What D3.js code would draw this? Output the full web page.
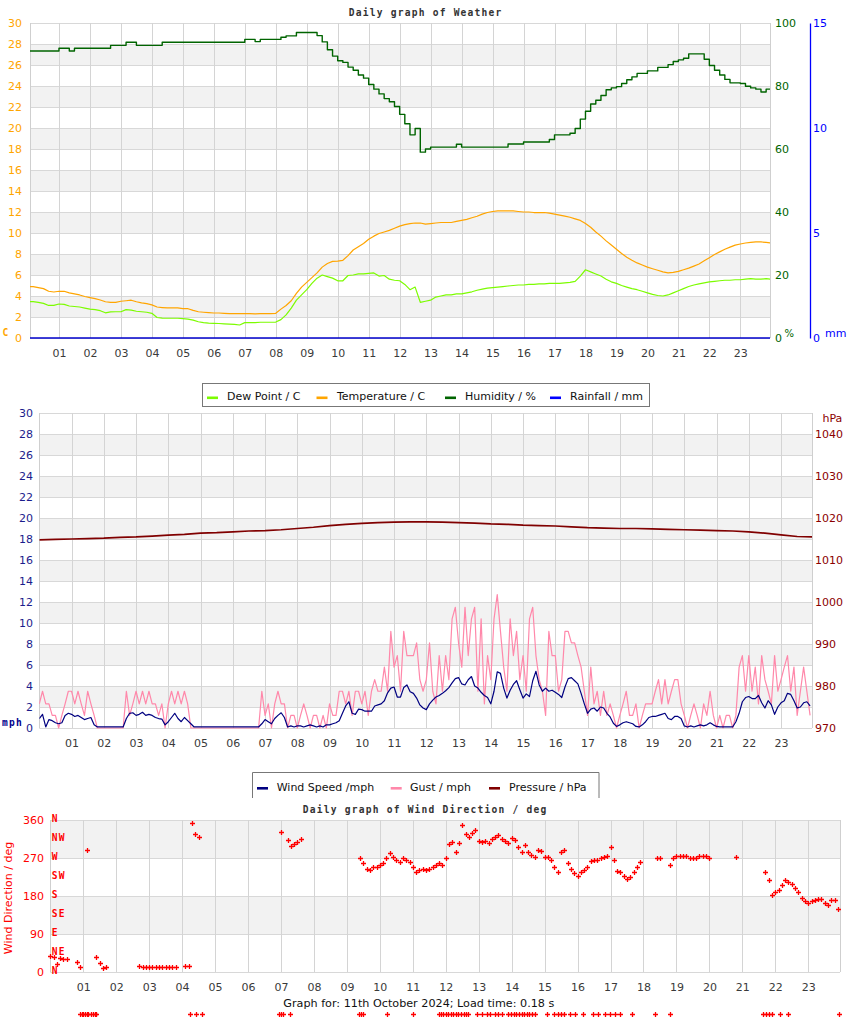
<!DOCTYPE html>
<html>
<head>
<meta charset="utf-8">
<script src="https://cdn.jsdelivr.net/npm/d3@7/dist/d3.min.js"></script>
<style>
html,body{margin:0;padding:0;background:#fff;}
svg{display:block;}
</style>
</head>
<body>
<svg id="chart" width="850" height="1017"></svg>
<script>
// ---------------- DATA ----------------
const hourTicks = [1,2,3,4,5,6,7,8,9,10,11,12,13,14,15,16,17,18,19,20,21,22,23];
const hourLabels = ["01","02","03","04","05","06","07","08","09","10","11","12","13","14","15","16","17","18","19","20","21","22","23"];
const tempTicks = [0,2,4,6,8,10,12,14,16,18,20,22,24,26,28,30];
const humidityTicks = [0,20,40,60,80,100];
const rainTicks = [0,5,10,15];
const mphTicks = [0,2,4,6,8,10,12,14,16,18,20,22,24,26,28,30];
const pressureTicks = [970,980,990,1000,1010,1020,1030,1040];
const directionTicks = [0,90,180,270,360];
const compassLabels = ["N","NE","E","SE","S","SW","W","NW","N"];
const compassDegrees = [0,45,90,135,180,225,270,315,360];

// 10-minute readings, 00:00 .. 24:00
const temperature = [
 4.89,4.89,4.80,4.70,4.45,4.38, 4.45,4.45,4.30,4.20,4.10,3.95,
 3.85,3.75,3.62,3.45,3.40,3.40, 3.50,3.55,3.60,3.45,3.35,3.27,
 3.15,2.95,2.90,2.86,2.86,2.86, 2.80,2.79,2.63,2.50,2.45,2.41,
 2.38,2.38,2.35,2.32,2.32,2.32, 2.32,2.32,2.30,2.32,2.32,2.32,
 2.35,2.75,3.10,3.55,4.25,4.85, 5.30,5.75,6.20,6.75,7.10,7.30,
 7.33,7.40,7.85,8.38,8.70,9.00, 9.40,9.70,9.95,10.10,10.25,10.45,
 10.65,10.80,10.90,10.95,10.95,10.85, 10.90,10.95,11.00,11.00,11.00,11.10,
 11.20,11.30,11.45,11.60,11.80,11.95, 12.05,12.10,12.10,12.10,12.10,12.05,
 12.00,12.00,11.95,11.95,11.95,11.90, 11.80,11.70,11.60,11.50,11.35,11.20,
 10.90,10.55,10.10,9.70,9.25,8.85, 8.45,8.05,7.70,7.40,7.15,6.95,
 6.75,6.60,6.45,6.30,6.20,6.25, 6.35,6.50,6.65,6.85,7.05,7.35,
 7.65,7.95,8.20,8.45,8.65,8.85, 8.95,9.05,9.10,9.15,9.15,9.10,
 9.05];
const dewPoint = [
 3.46,3.46,3.40,3.30,3.10,3.10, 3.24,3.20,3.05,3.00,2.95,2.85,
 2.75,2.70,2.60,2.40,2.48,2.50, 2.50,2.70,2.65,2.55,2.50,2.45,
 2.35,1.95,1.90,1.88,1.88,1.88, 1.85,1.80,1.70,1.55,1.46,1.42,
 1.40,1.38,1.35,1.33,1.30,1.24, 1.46,1.46,1.46,1.50,1.50,1.50,
 1.52,1.75,2.20,2.85,3.60,4.10, 4.60,5.20,5.70,6.00,5.85,5.70,
 5.45,5.45,5.95,6.00,6.10,6.10, 6.15,6.20,5.90,5.95,5.60,5.50,
 5.45,5.10,4.60,4.85,3.40,3.50, 3.60,3.90,4.00,4.10,4.10,4.20,
 4.20,4.30,4.40,4.55,4.65,4.75, 4.80,4.85,4.90,4.95,5.00,5.05,
 5.05,5.10,5.10,5.15,5.15,5.20, 5.20,5.20,5.25,5.30,5.40,5.90,
 6.50,6.30,6.10,5.90,5.60,5.35, 5.20,5.00,4.85,4.70,4.60,4.45,
 4.30,4.15,4.05,4.00,4.10,4.30, 4.50,4.70,4.90,5.05,5.15,5.25,
 5.35,5.40,5.45,5.50,5.50,5.55, 5.55,5.60,5.65,5.60,5.60,5.65,
 5.60];
const humidity = [
 91.1,91.1,91.1,91.1,91.1,91.1, 92.0,92.0,91.1,92.0,92.0,92.0,
 92.0,92.0,92.0,92.0,92.9,92.9, 92.9,93.9,93.9,92.9,92.9,92.9,
 92.9,92.9,93.9,93.9,93.9,93.9, 93.9,93.9,93.9,93.9,93.9,93.9,
 93.9,93.9,93.9,93.9,93.9,93.9, 94.8,94.8,94.1,94.8,94.8,94.8,
 94.8,95.5,95.9,95.9,97.0,97.0, 97.0,97.0,96.0,94.0,91.5,89.5,
 88.0,87.5,86.0,85.0,83.5,82.5, 80.5,79.0,77.5,76.0,75.0,73.5,
 71.0,68.0,64.5,66.5,59.0,60.0, 60.6,60.6,60.6,60.6,60.6,61.5,
 60.6,60.6,60.6,60.6,60.6,60.6, 60.6,60.6,60.6,61.6,61.6,61.6,
 62.2,62.2,62.2,62.2,62.2,63.0, 64.5,64.5,64.5,65.0,66.5,69.5,
 72.0,74.3,75.5,77.0,78.8,79.4, 79.8,80.8,82.0,82.9,84.0,84.0,
 84.8,84.8,85.9,85.9,86.8,87.8, 88.3,88.8,90.2,90.2,90.2,88.5,
 86.5,85.0,83.5,82.1,81.0,81.0, 80.8,79.9,79.4,79.0,78.1,79.0,
 79.0];
// hourly rainfall, 00:00 .. 24:00
const rainfall = [0,0,0,0,0,0,0,0,0,0,0,0,0,0,0,0,0,0,0,0,0,0,0,0,0];
// 30-minute pressure, 00:00 .. 24:00
const pressure = [
 1014.8,1014.9,1015.0,1015.1,1015.2,1015.4,1015.5,1015.7,1015.9,1016.1,
 1016.4,1016.5,1016.7,1016.9,1017.0,1017.2,1017.5,1017.8,1018.2,1018.5,
 1018.7,1018.9,1019.0,1019.1,1019.1,1019.0,1018.9,1018.8,1018.6,1018.5,
 1018.3,1018.2,1018.1,1017.9,1017.7,1017.6,1017.5,1017.5,1017.4,1017.3,
 1017.2,1017.1,1017.0,1016.9,1016.7,1016.4,1016.0,1015.6,1015.5];
// 6-minute wind readings, 00:00 .. 23:54
const windSpeed = [
 0.9,1.3,0.1,0.8,0.7,0.5,0.4,0.5,1.2,1.4,
 1.3,1.1,1.2,1.0,0.8,0.9,1.0,0.3,0.1,0.1,
 0.1,0.1,0.1,0.1,0.1,0.1,0.1,0.9,1.4,1.45,
 1.2,1.3,1.5,1.2,1.3,1.2,1.0,0.9,0.85,0.3,
 0.6,1.0,1.4,0.9,0.6,1.0,0.7,0.4,0.1,0.1,
 0.1,0.1,0.1,0.1,0.1,0.1,0.1,0.1,0.1,0.1,
 0.1,0.1,0.1,0.1,0.1,0.1,0.1,0.1,0.1,0.4,
 0.8,0.6,0.4,0.9,1.2,1.45,1.0,0.1,0.2,0.1,
 0.2,0.2,0.1,0.2,0.3,0.2,0.1,0.2,0.1,0.3,
 0.3,0.4,0.5,0.7,1.4,2.1,2.5,1.4,1.3,1.8,
 1.75,1.6,1.6,1.6,2.1,2.2,2.3,2.6,3.35,3.8,
 3.9,2.95,2.95,3.85,4.1,3.45,3.3,2.85,2.2,1.9,
 1.75,2.3,2.65,2.95,3.1,3.3,3.55,3.85,4.3,4.7,
 4.8,4.2,4.1,4.6,4.9,4.0,3.8,3.4,3.1,2.9,
 2.3,3.5,5.35,5.2,3.8,2.85,3.6,4.15,4.5,3.65,
 2.85,3.25,3.0,4.5,5.4,4.1,3.5,3.8,3.5,3.6,
 3.4,3.2,2.9,3.9,4.7,4.8,4.5,4.2,3.3,2.3,
 1.4,1.8,1.9,1.6,2.0,1.9,1.4,1.05,0.45,0.15,
 0.3,0.5,0.6,0.5,0.4,0.15,0.1,0.3,0.6,1.0,
 1.1,1.1,1.2,1.3,1.4,0.9,0.8,1.1,1.1,0.9,
 0.2,0.1,0.2,0.1,0.2,0.3,0.2,0.3,0.5,0.3,
 0.15,0.1,0.1,0.1,0.1,0.1,0.6,1.4,2.5,2.9,
 3.0,2.8,2.8,3.1,2.4,1.9,2.6,2.2,1.3,2.0,
 2.4,2.6,3.3,3.2,2.6,1.9,2.0,2.4,2.5,2.1];
const gust = [
 2.3,3.5,2.3,2.3,1.2,1.2,0,1.2,2.3,3.5,
 3.5,2.3,3.5,2.3,1.2,3.5,2.3,1.2,0,0,
 0,0,0,0,0,0,0,3.5,1.2,2.3,
 3.5,2.3,3.5,2.3,3.5,2.3,2.3,1.2,2.3,0,
 2.3,3.5,2.3,3.5,2.3,3.5,2.3,0,0,0,
 0,0,0,0,0,0,0,0,0,0,
 0,0,0,0,0,0,0,0,0,3.5,
 1.2,2.3,0,2.3,3.5,2.3,2.3,0,1.2,1.2,
 0,1.2,2.3,1.2,0,1.2,1.2,0,1.2,0,
 2.3,1.2,1.2,3.5,3.5,2.3,3.5,1.2,3.5,3.5,
 2.3,3.5,1.2,3.5,4.6,3.5,3.5,5.8,3.5,9.2,
 5.8,6.9,3.5,9.2,6.9,6.9,6.9,8.1,4.6,3.5,
 4.6,8.1,3.5,2.3,6.9,3.5,6.9,4.6,10.4,11.5,
 8.1,5.8,11.5,6.9,10.4,11.5,3.5,10.4,2.3,6.9,
 4.6,10.4,12.7,9.2,5.8,3.5,10.4,6.9,9.2,4.6,
 6.9,3.5,10.4,11.5,6.9,4.6,3.5,1.2,9.2,6.9,
 6.9,3.5,4.6,9.2,9.2,8.1,8.1,6.9,5.8,3.5,
 1.2,5.8,2.3,3.5,1.2,3.5,1.2,2.3,1.2,0,
 1.2,2.3,3.5,1.2,1.2,2.3,0,1.2,2.3,2.3,
 2.3,3.5,4.6,2.3,4.6,2.3,3.5,4.6,4.6,2.3,
 1.2,0,1.2,2.3,1.2,0,2.3,1.2,3.5,1.2,
 0,1.2,0,1.2,1.2,0,1.2,5.8,6.9,3.5,
 6.9,3.5,5.8,2.3,6.9,4.6,3.5,2.3,6.9,3.5,
 4.6,5.8,6.9,3.5,5.8,1.2,3.5,5.8,3.5,1.2];
const windDirection = [
 38,36,20,33,31,31,null,null,24,12,
 null,290,null,null,36,22,9,12,null,null,
 null,null,null,null,null,null,null,15,11,11,
 11,11,11,11,11,11,11,11,11,null,
 null,14,14,354,326,320,null,null,null,null,
 null,null,null,null,null,null,null,null,null,null,
 null,null,null,null,null,null,null,null,null,null,
 331,null,312,298,302,308,315,null,null,null,
 null,null,null,null,null,null,null,null,null,null,
 null,null,null,null,269,257,245,241,249,249,
 253,257,269,283,273,265,261,269,265,261,
 249,237,241,245,241,245,249,253,259,253,
 270,303,309,285,305,348,328,320,330,336,
 310,307,310,305,315,320,324,316,311,305,
 317,313,297,285,301,285,277,273,289,287,
 272,272,265,249,237,285,289,257,243,234,
 228,237,241,249,262,265,265,269,272,275,
 295,265,240,237,228,220,225,237,249,261,
 null,null,null,null,269,269,null,null,253,271,
 275,275,275,275,270,270,270,275,275,275,
 270,null,null,null,null,null,null,null,273,null,
 null,null,null,null,null,null,null,237,218,182,
 190,194,206,218,214,208,198,190,176,167,
 164,168,171,172,173,164,159,170,170,150];
// times (hours) with calm / no direction reading
const calmHours = [
 0.90,0.95,1.00,1.05,1.10,1.15,1.25,1.30,1.35,1.40,
 4.24,4.42,4.59,6.95,7.00,7.05,7.27,9.38,9.44,9.50,10.21,11.02,
 11.78,11.86,11.93,12.01,12.08,12.16,12.23,12.31,12.38,12.46,12.54,12.61,12.69,
 12.94,13.09,13.24,13.35,13.48,13.60,13.70,
 13.90,13.98,14.06,14.14,14.22,14.30,14.38,14.46,14.54,14.62,14.71,
 15.07,15.27,15.42,15.50,15.60,15.77,15.92,16.18,16.48,16.63,
 16.83,16.99,17.14,17.29,17.64,18.35,18.81,
 21.64,21.72,21.80,21.89,22.15,22.40,23.92];
const calmMarkerDeg = -100;

// ---------------- DRAWING ----------------
const SANS = "'DejaVu Sans', Verdana, sans-serif";
const MONO = "'DejaVu Sans Mono', monospace";
const svg = d3.select("#chart");
const defs = svg.append("defs");

const series = (arr, step) => arr.map((v, i) => ({t: i * step, v: v}));

function clipRect(id, b) {
  defs.append("clipPath").attr("id", id).append("rect")
    .attr("x", b.left).attr("y", b.top - 4)
    .attr("width", b.right - b.left).attr("height", b.bottom - b.top + 8);
}

function drawGrid(b, xs, ys, ticks) {
  const g = svg.append("g");
  const bands = ticks.map((d, i) => [d, ticks[i + 1]]).filter((d, i) => i % 2 === 1 && d[1] !== undefined);
  g.selectAll("rect.band").data(bands).join("rect").attr("class", "band")
    .attr("x", b.left).attr("width", b.right - b.left)
    .attr("y", d => ys(d[1])).attr("height", d => ys(d[0]) - ys(d[1]))
    .attr("fill", "#f2f2f2");
  g.selectAll("line.h").data(ticks).join("line").attr("class", "h")
    .attr("x1", b.left).attr("x2", b.right)
    .attr("y1", d => Math.round(ys(d)) + 0.5).attr("y2", d => Math.round(ys(d)) + 0.5)
    .attr("stroke", "#d8d8d8");
  g.selectAll("line.v").data(hourTicks).join("line").attr("class", "v")
    .attr("x1", d => Math.round(xs(d)) + 0.5).attr("x2", d => Math.round(xs(d)) + 0.5)
    .attr("y1", b.top).attr("y2", b.bottom)
    .attr("stroke", "#d4d4d4");
  [b.left, b.right].forEach(x => g.append("line")
    .attr("x1", Math.round(x) + 0.5).attr("x2", Math.round(x) + 0.5)
    .attr("y1", b.top).attr("y2", b.bottom).attr("stroke", "#cfcfcf"));
}

function styleAxis(g, color, keepDomain) {
  if (!keepDomain) g.select(".domain").remove();
  g.selectAll(".tick line").remove();
  g.attr("font-family", null).attr("font-size", null);
  g.selectAll("text").attr("fill", color).style("font-family", SANS).style("font-size", "11px");
}

function drawLine(clipId, data, xs, ys, color, width, curve) {
  svg.append("path").datum(data)
    .attr("clip-path", `url(#${clipId})`)
    .attr("fill", "none").attr("stroke", color).attr("stroke-width", width)
    .attr("stroke-linejoin", "round")
    .attr("d", d3.line().defined(d => d.v != null).x(d => xs(d.t)).y(d => ys(d.v)).curve(curve || d3.curveLinear));
}

function bitmapText(x, y, str, color) {
  return svg.append("text").attr("x", x).attr("y", y).text(str)
    .attr("fill", color).style("font-family", MONO).style("font-weight", "bold")
    .style("font-size", "9.6px").style("letter-spacing", "1.22px");
}

function timeAxis(xs, y, pad) {
  const g = svg.append("g").attr("transform", `translate(0,${y})`)
    .call(d3.axisBottom(xs).tickValues(hourTicks).tickFormat((d, i) => hourLabels[i]).tickSize(0).tickPadding(pad));
  styleAxis(g, "#3a3a3a");
}

function legend(box, items, open) {
  const g = svg.append("g");
  if (open) {
    g.append("rect").attr("x", box.x).attr("y", box.y).attr("width", box.w).attr("height", box.h).attr("fill", "#fff");
    g.append("path").attr("d", `M${box.x + 0.5},${box.y + box.h}V${box.y + 0.5}H${box.x + box.w - 0.5}V${box.y + box.h}`)
      .attr("fill", "none").attr("stroke", "#777");
  } else {
    g.append("rect").attr("x", box.x + 0.5).attr("y", box.y + 0.5).attr("width", box.w).attr("height", box.h)
      .attr("fill", "#fff").attr("stroke", "#777");
  }
  items.forEach(it => {
    g.append("line").attr("x1", it.lx).attr("x2", it.lx + 11).attr("y1", box.dashY).attr("y2", box.dashY)
      .attr("stroke", it.color).attr("stroke-width", 2.6);
    g.append("text").attr("x", it.tx).attr("y", box.textY).text(it.label)
      .attr("fill", "#111").style("font-family", SANS).style("font-size", "11px");
  });
}

// ======== Chart 1: Weather ========
const b1 = {left: 30, right: 770, top: 23, bottom: 338};
const x1 = d3.scaleLinear().domain([0, 24]).range([28, 771.3]);
const yT = d3.scaleLinear().domain([0, 30]).range([338, 23]);
const yH = d3.scaleLinear().domain([0, 100]).range([338, 23]);
const yR = d3.scaleLinear().domain([0, 15]).range([338, 23]);
clipRect("c1", b1);
drawGrid(b1, x1, yT, tempTicks);

bitmapText(348.7, 16.3, "Daily graph of Weather", "#333");

let g = svg.append("g").attr("transform", "translate(30,0)")
  .call(d3.axisLeft(yT).tickValues(tempTicks).tickSize(0).tickPadding(8));
styleAxis(g, "#ffa500");
bitmapText(2.5, 336, "C", "#ffa500");

g = svg.append("g").attr("transform", "translate(770,0)")
  .call(d3.axisRight(yH).tickValues(humidityTicks).tickSize(0).tickPadding(5));
styleAxis(g, "#006400");
svg.append("text").attr("x", 784.5).attr("y", 337).text("%").attr("fill", "#006400")
  .style("font-family", SANS).style("font-size", "10px");

g = svg.append("g").attr("transform", "translate(810,0)")
  .call(d3.axisRight(yR).tickValues(rainTicks).tickSize(0).tickSizeOuter(0).tickPadding(3));
styleAxis(g, "#0000ff", true);
g.select(".domain").attr("stroke", "#0000ff").attr("stroke-width", 1.3);
svg.append("text").attr("x", 825).attr("y", 336.5).text("mm").attr("fill", "#0000ff")
  .style("font-family", SANS).style("font-size", "11px");

timeAxis(x1, 338, 11);

drawLine("c1", series(dewPoint, 1 / 6), x1, yT, "#7cfc00", 1.2);
drawLine("c1", series(temperature, 1 / 6), x1, yT, "#ffa500", 1.2);
drawLine("c1", series(humidity, 1 / 6), x1, yH, "#006400", 1.4, d3.curveStepAfter);
drawLine("c1", series(rainfall, 1), x1, yR, "#0000cc", 1.6);

// ======== Chart 2: Wind speed / pressure ========
const b2 = {left: 39.3, right: 812, top: 413, bottom: 728};
const x2 = d3.scaleLinear().domain([0, 24]).range([39.3, 813.3]);
const yW = d3.scaleLinear().domain([0, 30]).range([728, 413]);
const yP = d3.scaleLinear().domain([970, 1045]).range([728, 413]);
clipRect("c2", b2);

legend({x: 202, y: 383, w: 447, h: 23, dashY: 397.8, textY: 400},
  [{lx: 207, tx: 227, color: "#7cfc00", label: "Dew Point / C"},
   {lx: 316.5, tx: 337, color: "#ffa500", label: "Temperature / C"},
   {lx: 445, tx: 465, color: "#006400", label: "Humidity / %"},
   {lx: 550, tx: 570, color: "#0000ff", label: "Rainfall / mm"}], false);

drawGrid(b2, x2, yW, mphTicks);

g = svg.append("g").attr("transform", "translate(39,0)")
  .call(d3.axisLeft(yW).tickValues(mphTicks).tickSize(0).tickPadding(6));
styleAxis(g, "#1c1c8c");
bitmapText(2, 725.5, "mph", "#00008b");

g = svg.append("g").attr("transform", "translate(812,0)")
  .call(d3.axisRight(yP).tickValues(pressureTicks).tickFormat(d3.format("d")).tickSize(0).tickPadding(3));
styleAxis(g, "#8b0000");
svg.append("text").attr("x", 822.5).attr("y", 421.5).text("hPa").attr("fill", "#8b0000")
  .style("font-family", SANS).style("font-size", "11px");

timeAxis(x2, 728, 11);

drawLine("c2", series(gust, 0.1), x2, yW, "#ff88aa", 1.2);
drawLine("c2", series(windSpeed, 0.1), x2, yW, "#000080", 1.2);
drawLine("c2", series(pressure, 0.5), x2, yP, "#800000", 1.7);

legend({x: 252, y: 772, w: 347.5, h: 26, dashY: 788.3, textY: 790.5},
  [{lx: 257, tx: 276.7, color: "#000080", label: "Wind Speed /mph"},
   {lx: 390.7, tx: 410, color: "#ff88aa", label: "Gust / mph"},
   {lx: 489, tx: 509, color: "#800000", label: "Pressure / hPa"}], true);

// ======== Chart 3: Wind direction ========
const b3 = {left: 50.3, right: 840, top: 820, bottom: 972};
const x3 = d3.scaleLinear().domain([0, 24]).range([50.3, 841.2]);
const yD = d3.scaleLinear().domain([0, 360]).range([972, 820]);

bitmapText(302.7, 812.5, "Daily graph of Wind Direction / deg", "#333");
drawGrid(b3, x3, yD, directionTicks);

g = svg.append("g").attr("transform", "translate(51,0)")
  .call(d3.axisLeft(yD).tickValues(directionTicks).tickSize(0).tickPadding(7));
styleAxis(g, "#ff0000");
svg.append("text").attr("transform", `translate(12,${(yD(0) + yD(360)) / 2 + 2}) rotate(-90)`)
  .attr("text-anchor", "middle").text("Wind Direction / deg").attr("fill", "#ff0000")
  .style("font-family", SANS).style("font-size", "11px");

compassLabels.forEach((lab, i) => bitmapText(51.7, yD(compassDegrees[i]) + 1.5, lab, "#ff0000"));

timeAxis(x3, 972, 11);

const plus = "M-2.5,0H2.5M0,-2.5V2.5";
const dirPts = series(windDirection, 0.1).filter(d => d.v != null);
svg.append("g").selectAll("path").data(dirPts).join("path")
  .attr("transform", d => `translate(${Math.round(x3(d.t)) + 0.5},${Math.round(yD(d.v)) + 0.5})`)
  .attr("d", plus).attr("stroke", "#ff0000").attr("stroke-width", 1.3).attr("fill", "none");
svg.append("g").selectAll("path").data(calmHours).join("path")
  .attr("transform", d => `translate(${Math.round(x3(d)) + 0.5},${Math.round(yD(calmMarkerDeg)) + 0.5})`)
  .attr("d", plus).attr("stroke", "#ff0000").attr("stroke-width", 1.3).attr("fill", "none");

svg.append("text").attr("x", 283.3).attr("y", 1007).text("Graph for: 11th October 2024; Load time: 0.18 s")
  .attr("fill", "#111").style("font-family", SANS).style("font-size", "11.2px");
</script>
</body>
</html>
